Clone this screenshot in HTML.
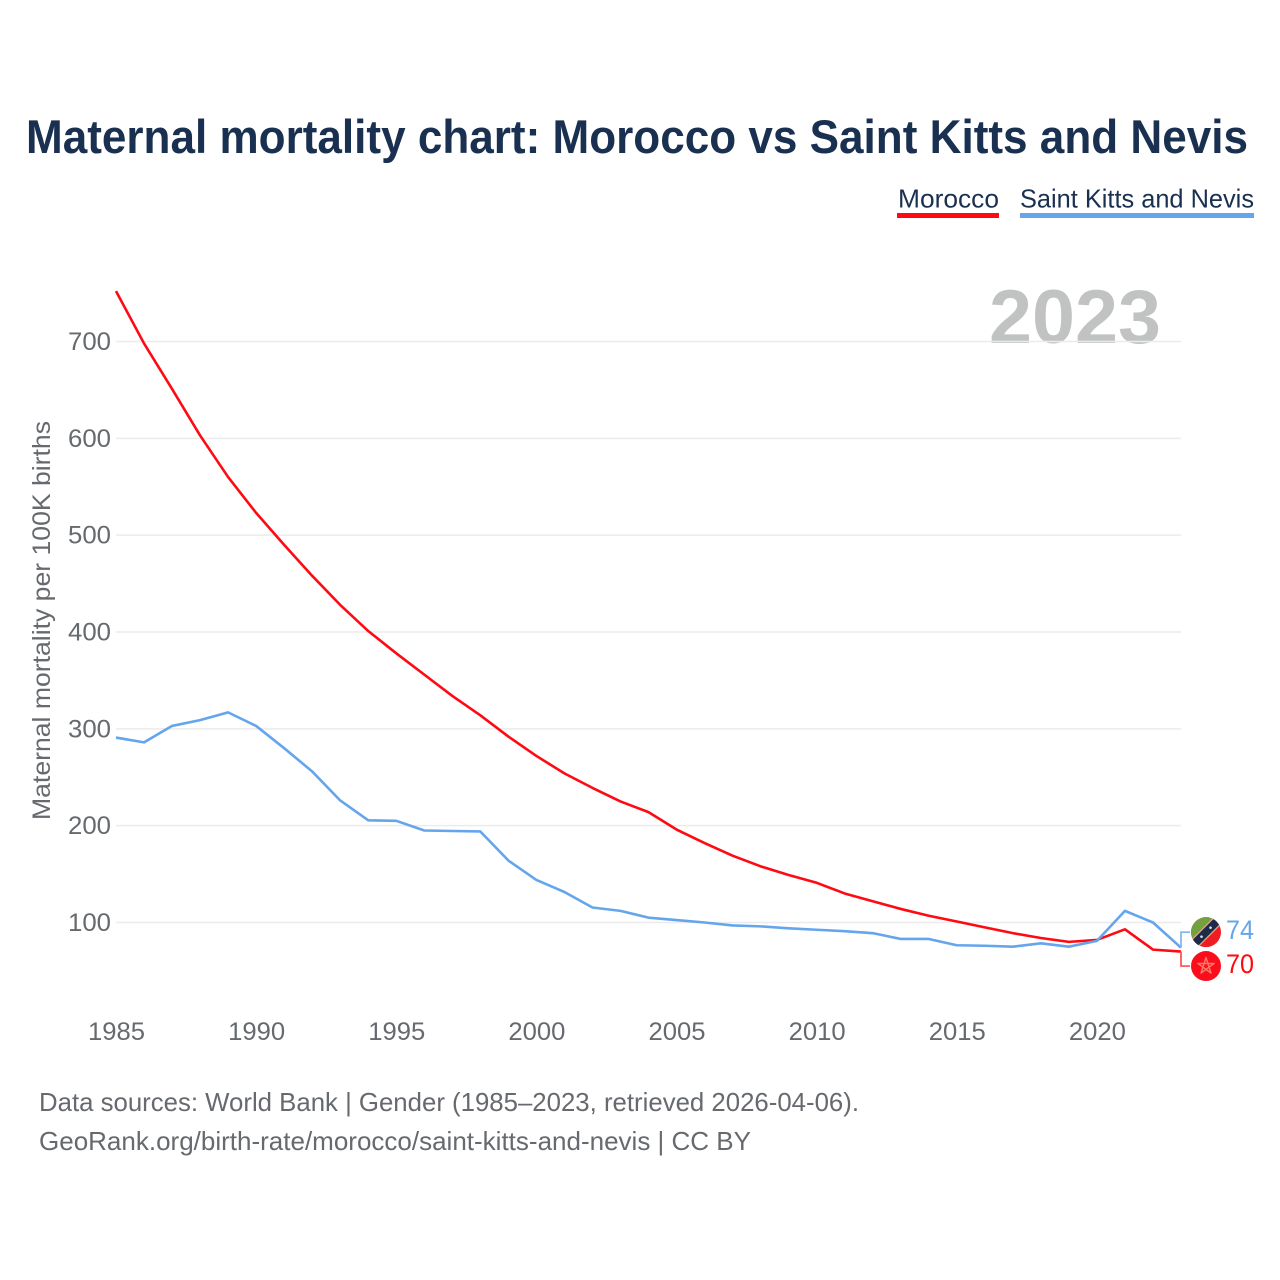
<!DOCTYPE html>
<html lang="en">
<head>
<meta charset="utf-8">
<title>Maternal mortality chart: Morocco vs Saint Kitts and Nevis</title>
<style>
html,body{margin:0;padding:0;background:#fff;width:1280px;height:1280px;overflow:hidden}
svg{display:block}
text{font-family:"Liberation Sans",sans-serif}
</style>
</head>
<body>
<svg id="chart" width="1280" height="1280" viewBox="0 0 1280 1280" xmlns="http://www.w3.org/2000/svg">
  <defs>
    <clipPath id="flag-clip"><circle cx="0" cy="0" r="15"/></clipPath>
  </defs>
  <rect width="1280" height="1280" fill="#fff"/>
  <text x="26" y="153" font-size="47" font-weight="700" fill="#1a3050" textLength="1222" lengthAdjust="spacingAndGlyphs">Maternal mortality chart: Morocco vs Saint Kitts and Nevis</text>

  <g>
    <g>
      <text x="898" y="207.5" font-size="26" fill="#1a3050" textLength="101" lengthAdjust="spacingAndGlyphs">Morocco</text>
      <rect x="897" y="213" width="102" height="5" fill="#ff0a12"/>
    </g>
    <g>
      <text x="1020" y="207.5" font-size="26" fill="#1a3050" textLength="234" lengthAdjust="spacingAndGlyphs">Saint Kitts and Nevis</text>
      <rect x="1020" y="213" width="234" height="5" fill="#64a5ec"/>
    </g>
  </g>

  <text x="989" y="343" font-size="76" font-weight="700" fill="#c1c3c3" textLength="172" lengthAdjust="spacingAndGlyphs">2023</text>

  <g id="grid"></g>
  <g id="y-axis"></g>
  <g id="x-axis"></g>
  <text transform="translate(50,620.5) rotate(-90)" text-anchor="middle" font-size="25" fill="#666a6e" textLength="399" lengthAdjust="spacingAndGlyphs">Maternal mortality per 100K births</text>
  <g id="series"></g>
  <g id="end-labels"></g>

  <g>
    <text x="39" y="1111" font-size="26" fill="#666a6e" textLength="820" lengthAdjust="spacingAndGlyphs">Data sources: World Bank | Gender (1985–2023, retrieved 2026-04-06).</text>
    <text x="39" y="1150" font-size="26" fill="#666a6e" textLength="712" lengthAdjust="spacingAndGlyphs">GeoRank.org/birth-rate/morocco/saint-kitts-and-nevis | CC BY</text>
  </g>
</svg>

<script>
const years = [1985,1986,1987,1988,1989,1990,1991,1992,1993,1994,1995,1996,1997,1998,1999,2000,2001,2002,2003,2004,2005,2006,2007,2008,2009,2010,2011,2012,2013,2014,2015,2016,2017,2018,2019,2020,2021,2022,2023];
const moroccoValues = [752,698,651,603,560,523,490,458,428,401,378,356,334,314,292,272,254,239,225,214,196,182,169,158,149,141,130,122,114,107,101,95,89,84,80,82,93,72,70];
const saintKittsValues = [291,286,303,309,317,303,280,256,226,205.5,205,195,194.5,194,164,144,131.5,115.5,112,105,102.5,100,97,96,94,92.5,91,89,83,83,76.5,76,75,78.5,75,81,112,100,74];
const yTicks = [100,200,300,400,500,600,700];
const xTicks = [1985,1990,1995,2000,2005,2010,2015,2020];

const NS = 'http://www.w3.org/2000/svg';
const xScale = function (year) { return 116 + (year - 1985) * (1181 - 116) / (2023 - 1985); };
const yScale = function (value) { return 922.5 - (value - 100) * (922.5 - 341.5) / 600; };

function make(tag, parent, attrs, text) {
  const el = document.createElementNS(NS, tag);
  for (const key in attrs) { el.setAttribute(key, attrs[key]); }
  if (text !== undefined) { el.textContent = text; }
  parent.appendChild(el);
  return el;
}

const grid = document.getElementById('grid');
const yAxis = document.getElementById('y-axis');
const xAxis = document.getElementById('x-axis');
const seriesGroup = document.getElementById('series');
const endLabels = document.getElementById('end-labels');

yTicks.forEach(function (tick) {
  const line = make('line', grid, { x1: 116, x2: 1181, y1: yScale(tick), y2: yScale(tick), stroke: '#ebebeb', 'stroke-width': 1.5 });
  
  
  const label = make('text', yAxis, { x: 111, y: yScale(tick) + 8.5, 'text-anchor': 'end', 'font-size': 25, fill: '#666a6e', textLength: 43, lengthAdjust: 'spacingAndGlyphs' }, String(tick));
  
  
});

xTicks.forEach(function (tick) {
  const label = make('text', xAxis, { x: xScale(tick) + 0.5, y: 1040, 'text-anchor': 'middle', 'font-size': 25, fill: '#666a6e', textLength: 57, lengthAdjust: 'spacingAndGlyphs' }, String(tick));
  
  
});

function linePath(values) {
  return values.map(function (v, i) {
    return (i ? 'L' : 'M') + xScale(years[i]).toFixed(2) + ' ' + yScale(v).toFixed(2);
  }).join(' ');
}

const moroccoLine = make('path', seriesGroup, { d: linePath(moroccoValues), fill: 'none', stroke: '#ff0a12', 'stroke-width': 2.6, 'stroke-linejoin': 'round' });



const saintKittsLine = make('path', seriesGroup, { d: linePath(saintKittsValues), fill: 'none', stroke: '#64a5ec', 'stroke-width': 2.6, 'stroke-linejoin': 'round' });



const lastX = xScale(years[years.length - 1]);
const lastMorocco = moroccoValues[moroccoValues.length - 1];
const lastSaintKitts = saintKittsValues[saintKittsValues.length - 1];
const flagKittsY = yScale(lastSaintKitts) - 15.5;
const flagMoroccoY = yScale(lastMorocco) + 14.5;

const kittsConnector = make('path', endLabels, { d: 'M' + lastX + ' ' + yScale(lastSaintKitts) + ' V' + flagKittsY + ' H1190', fill: 'none', stroke: '#7fb4ee', 'stroke-width': 1.7 });



const moroccoConnector = make('path', endLabels, { d: 'M' + lastX + ' ' + yScale(lastMorocco) + ' V' + flagMoroccoY + ' H1190', fill: 'none', stroke: '#ff4f48', 'stroke-width': 1.7 });



// Saint Kitts and Nevis flag
const kittsFlag = make('g', endLabels, { transform: 'translate(1206,' + flagKittsY + ')', 'clip-path': 'url(#flag-clip)' });


make('rect', kittsFlag, { x: -16, y: -16, width: 32, height: 32, fill: '#ef1c24' });
make('path', kittsFlag, { d: 'M-16 16 L16 -16 L-16 -16 Z', fill: '#72a23f' });
make('line', kittsFlag, { x1: -17, y1: 17, x2: 17, y2: -17, stroke: '#f4a07a', 'stroke-width': 10.5 });
make('line', kittsFlag, { x1: -17, y1: 17, x2: 17, y2: -17, stroke: '#1c2b4a', 'stroke-width': 8 });
[-4.5, 4.5].forEach(function (d) {
  make('circle', kittsFlag, { cx: d, cy: -d, r: 1.3, fill: '#e0e0e0' });
});

// Morocco flag
const moroccoFlag = make('g', endLabels, { transform: 'translate(1206,' + flagMoroccoY + ')', 'clip-path': 'url(#flag-clip)' });


make('rect', moroccoFlag, { x: -16, y: -16, width: 32, height: 32, fill: '#fb0d1b' });
make('path', moroccoFlag, { d: 'M0 -8.5 L5 7 L-8.1 -2.6 L8.1 -2.6 L-5 7 Z', fill: 'none', stroke: '#ff7a66', 'stroke-width': 1.5, 'stroke-linejoin': 'round' });

const kittsValue = make('text', endLabels, { x: 1226, y: flagKittsY + 7, 'font-size': 27, fill: '#64a5ec', textLength: 28, lengthAdjust: 'spacingAndGlyphs' }, String(lastSaintKitts));



const moroccoValue = make('text', endLabels, { x: 1226, y: flagMoroccoY + 7, 'font-size': 27, fill: '#ff0a12', textLength: 28, lengthAdjust: 'spacingAndGlyphs' }, String(lastMorocco));


</script>
</body>
</html>
